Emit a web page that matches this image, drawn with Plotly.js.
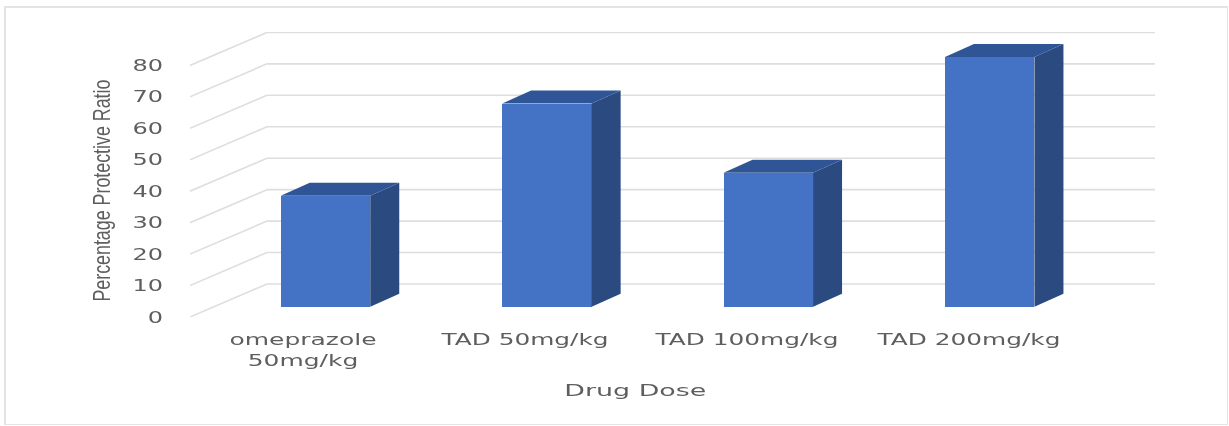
<!DOCTYPE html>
<html>
<head>
<meta charset="utf-8">
<script src="https://cdn.plot.ly/plotly-3.0.1.min.js"></script>
<style>
html,body{margin:0;padding:0;background:#fff;width:1229px;height:426px;overflow:hidden}
#frame{position:absolute;left:4px;top:6px;width:1224px;height:419px;box-sizing:border-box;border:2px solid #e4e4e4;border-right-width:1px;border-bottom-width:1px}
#chart{position:absolute;left:0;top:0;width:1229px;height:426px;filter:blur(0.7px)}
</style>
</head>
<body>
<div id="frame"></div>
<div id="chart"></div>
<script>
const categories = ['omeprazole<br>50mg/kg', 'TAD 50mg/kg', 'TAD 100mg/kg', 'TAD 200mg/kg'];
const protectiveRatio = [35.3, 64.6, 42.6, 79.4];
const tickValues = [0, 10, 20, 30, 40, 50, 60, 70, 80];
const xTitle = 'Drug Dose';
const yTitle = 'Percentage Protective Ratio';

const W = 1229, H = 426;
const M = {l: 190, r: 74, t: 32, b: 109};
const pxX = 222, pxY = 3.145;
const xRange = [-0.5, -0.5 + (W - M.l - M.r) / pxX];
const yRange = [0, (H - M.t - M.b) / pxY];

// perspective depths, in axis units
const wallDx = 77 / pxX, wallDy = 33 / pxY;
const barStep = 221.4 / pxX, barShift = 24.5 / pxX, barWidth = 89.5 / pxX, barBase = 10.3 / pxY;
const sideDx = 29 / pxX, sideDy = 13 / pxY;
const labelShift = 2 / pxX;

const pos = categories.map((_, i) => i);
const barX = pos.map(p => p * barStep + barShift);

const grid = tickValues.flatMap(v => [
  {type:'line', layer:'below', xref:'x', yref:'y', x0:xRange[0], y0:v, x1:xRange[0]+wallDx, y1:v+wallDy, line:{color:'#dedede', width:1.6}},
  {type:'line', layer:'below', xref:'x', yref:'y', x0:xRange[0]+wallDx, y0:v+wallDy, x1:xRange[1], y1:v+wallDy, line:{color:'#dedede', width:1.6}}
]);

function face(xs, ys, color) {
  return {type:'scatter', mode:'lines', x:xs, y:ys, fill:'toself', fillcolor:color,
          line:{width:0, color:color}, hoverinfo:'skip', showlegend:false, cliponaxis:false};
}
const sideFaces = protectiveRatio.map((v, i) => {
  const r = barX[i] + barWidth / 2, b = barBase, t = barBase + v;
  return face([r, r + sideDx, r + sideDx, r, r], [b, b + sideDy, t + sideDy, t, b], '#2a4a80');
});
const topFaces = protectiveRatio.map((v, i) => {
  const l = barX[i] - barWidth / 2, r = barX[i] + barWidth / 2, t = barBase + v;
  return face([l, l + sideDx, r + sideDx, r, l], [t, t + sideDy, t + sideDy, t, t], '#2f5597');
});
const front = {type:'bar', x:barX, y:protectiveRatio, base:protectiveRatio.map(() => barBase),
  width:barWidth, marker:{color:'#4472c4', line:{width:0}}, showlegend:false, hoverinfo:'skip'};

const tickFont = {family:'"DejaVu Sans"', size:16, color:'#5e5e5e'};

const layout = {
  width:W, height:H, margin:M, paper_bgcolor:'rgba(0,0,0,0)', plot_bgcolor:'rgba(0,0,0,0)',
  showlegend:false, bargap:0,
  xaxis:{range:xRange, tickmode:'array', tickvals:pos.map(p => p + labelShift), ticktext:categories, tickangle:0,
         showgrid:false, zeroline:false, showline:false, ticks:'', tickfont:tickFont, ticklabelstandoff:11, fixedrange:true},
  yaxis:{range:yRange, tickmode:'array', tickvals:tickValues, ticktext:tickValues.map(String),
         showgrid:false, zeroline:false, showline:false, ticks:'', tickfont:tickFont, ticklabelstandoff:26, fixedrange:true},
  shapes:grid,
  annotations:[
    {text:xTitle, xref:'paper', yref:'paper', x:(635-M.l)/(W-M.l-M.r), y:-(390-(H-M.b))/(H-M.t-M.b),
     xanchor:'center', yanchor:'middle', showarrow:false, font:{family:'"DejaVu Sans"', size:16, color:'#5e5e5e'}},
    {text:yTitle, xref:'paper', yref:'paper', x:(101-M.l)/(W-M.l-M.r), y:((H-M.b)-191)/(H-M.t-M.b),
     xanchor:'center', yanchor:'middle', textangle:-90, showarrow:false, font:{family:'"Liberation Sans"', size:24, color:'#5e5e5e'}}
  ]
};

Plotly.newPlot('chart', [front, ...sideFaces, ...topFaces], layout, {displayModeBar:false, staticPlot:true}).then(gd => {
  // the reference's labels are stretched or squeezed horizontally: adjust the real text glyphs
  const fit = (el, f) => {
    const len = el.getComputedTextLength();
    if (len > 0) { el.setAttribute('textLength', len * f); el.setAttribute('lengthAdjust', 'spacingAndGlyphs'); }
  };
  gd.querySelectorAll('.xtick text, .ytick text').forEach(t => {
    const lines = t.querySelectorAll('tspan.line');
    if (lines.length) lines.forEach(l => fit(l, 1.56)); else fit(t, t.closest('.xtick') ? 1.55 : 1.5);
  });
  gd.querySelectorAll('.annotation-text').forEach(t => {
    if (t.textContent === xTitle) fit(t, 1.68);
    if (t.textContent === yTitle) fit(t, 222 / t.getComputedTextLength());
  });
});
</script>
</body>
</html>
